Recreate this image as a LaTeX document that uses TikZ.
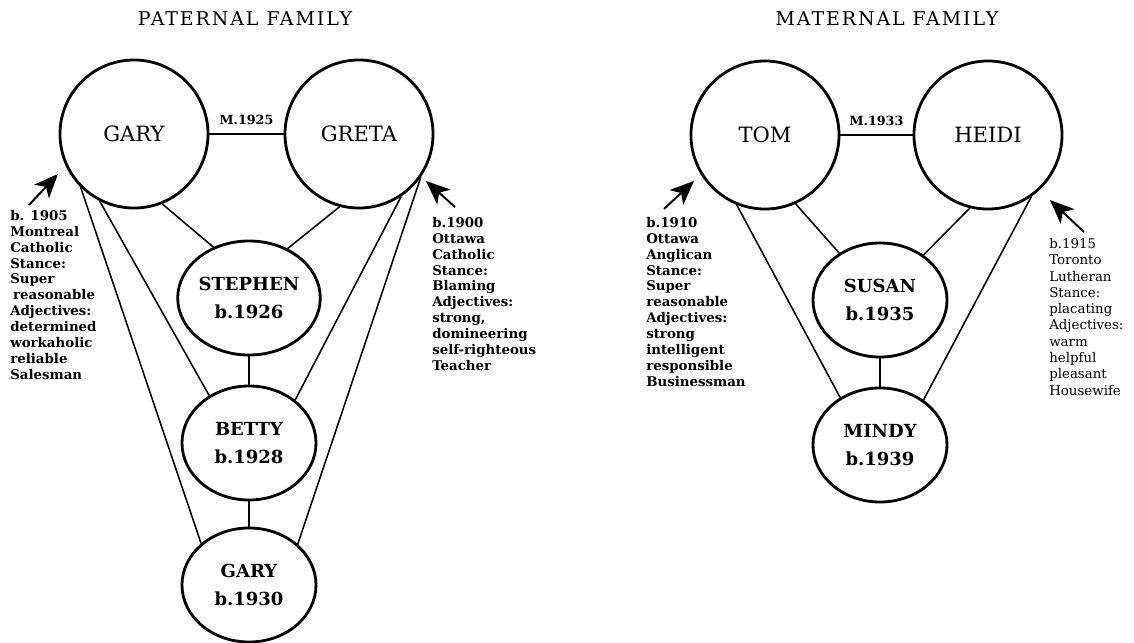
\documentclass[tikz,border=0pt]{standalone}
\usepackage{fontspec}
\setmainfont{DejaVu Serif}
\usepackage{tikz}
\usetikzlibrary{arrows.meta, positioning, shapes.geometric}

\begin{document}
\begin{tikzpicture}[
  x=0.025cm, y=-0.025cm,
  parent/.style={draw, circle, line width=2pt, minimum size=3.7cm, inner sep=0pt,
    font=\fontsize{15}{18}\selectfont},
  child/.style={draw, ellipse, line width=2pt, minimum width=3.35cm, minimum height=2.85cm,
    inner sep=0pt, align=center, font=\fontsize{12.8}{19.5}\selectfont\bfseries},
  note/.style={anchor=north west, inner sep=0pt, align=left,
    font=\fontsize{9.5}{11.3}\selectfont\bfseries},
  title/.style={font=\addfontfeature{LetterSpace=10}\fontsize{13.5}{15}\selectfont},
  wed/.style={font=\fontsize{9}{10}\selectfont\bfseries},
  pointer/.style={-{Stealth[length=6mm, width=5mm, inset=1.6mm]}, line width=1.4pt},
  link/.style={line width=1.1pt}
]
\useasboundingbox (0,0) rectangle (1134,643);

\node[title] at (245,19) (paternal) {PATERNAL FAMILY};
\node[title] at (887,19) (maternal) {MATERNAL FAMILY};

% paternal side
\node[parent] at (134,134) (gary_sr) {GARY};
\node[parent] at (359,134) (greta) {GRETA};
\node[child] at (249,298) (stephen) {STEPHEN\\b.1926};
\node[child] at (249,443) (betty) {BETTY\\b.1928};
\node[child] at (249,585) (gary_jr) {GARY\\b.1930};

\draw[link] (gary_sr) to node[midway, above=3pt, wed] {M.1925} (greta);
\draw[link] (gary_sr.292) -- (stephen.125);
\draw[link] (greta.255) -- (stephen.52);
\draw[link] (stephen) -- (betty);
\draw[link] (betty) -- (gary_jr);
\draw[link] (gary_sr.243) -- (betty.130);
\draw[link] (gary_sr.225) -- (gary_jr.139);
\draw[link] (greta.304) -- (betty.43);
\draw[link] (greta.325) -- (gary_jr.40);

\node[note] at (10,210) (gary_info) {b. 1905\\Montreal\\Catholic\\Stance:\\Super\\\hspace*{2pt}reasonable\\Adjectives:\\determined\\workaholic\\reliable\\Salesman};
\node[note] at (432,217) (greta_info) {b.1900\\Ottawa\\Catholic\\Stance:\\Blaming\\Adjectives:\\strong,\\domineering\\self-righteous\\Teacher};

\coordinate (gary_tail) at (29,205);
\coordinate (gary_tip) at (58,174);
\coordinate (greta_tail) at (455,207);
\coordinate (greta_tip) at (426,181);
\draw[pointer] (gary_tail) -- (gary_tip);
\draw[pointer] (greta_tail) -- (greta_tip);

% maternal side
\node[parent] at (765,135) (tom) {TOM};
\node[parent] at (988,135) (heidi) {HEIDI};
\node[child] at (880,300) (susan) {SUSAN\\b.1935};
\node[child] at (880,445) (mindy) {MINDY\\b.1939};

\draw[link] (tom) to node[midway, above=3pt, wed] {M.1933} (heidi);
\draw[link] (tom.294) -- (susan.131);
\draw[link] (heidi.256) -- (susan.46);
\draw[link] (susan) -- (mindy);
\draw[link] (tom.248) -- (mindy.130);
\draw[link] (heidi.305) -- (mindy.46);

\node[note] at (646,217) (tom_info) {b.1910\\Ottawa\\Anglican\\Stance:\\Super\\reasonable\\Adjectives:\\strong\\intelligent\\responsible\\Businessman};
\node[note, font=\fontsize{9.5}{11.6}\selectfont] at (1049,238) (heidi_info) {b.1915\\Toronto\\Lutheran\\Stance:\\placating\\Adjectives:\\warm\\helpful\\pleasant\\Housewife};

\coordinate (tom_tail) at (664,209);
\coordinate (tom_tip) at (694,181);
\coordinate (heidi_tail) at (1084,232);
\coordinate (heidi_tip) at (1050,200);
\draw[pointer] (tom_tail) -- (tom_tip);
\draw[pointer] (heidi_tail) -- (heidi_tip);
\end{tikzpicture}
\end{document}
